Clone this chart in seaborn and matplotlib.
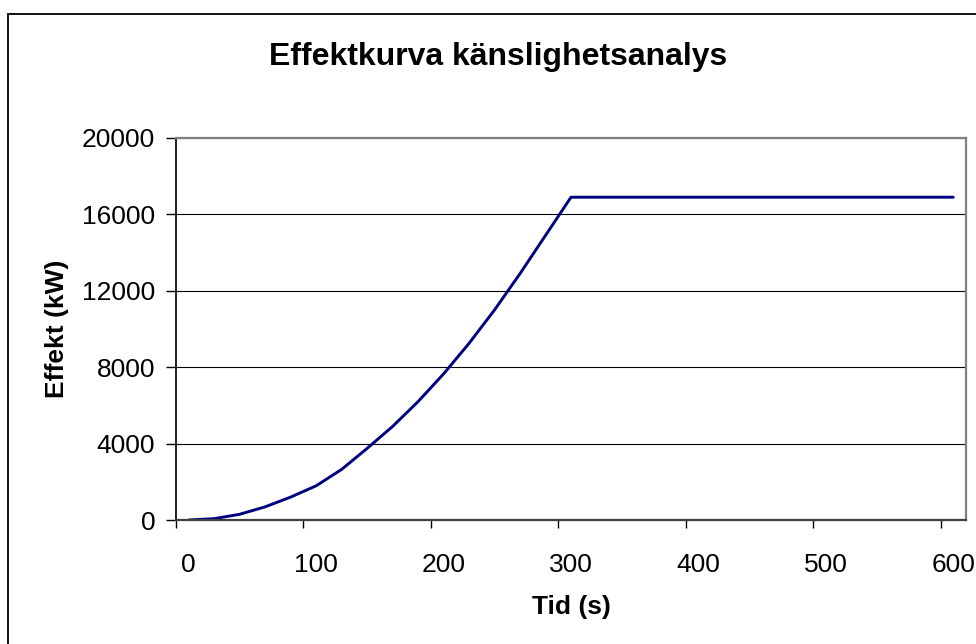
import matplotlib
matplotlib.use("Agg")
import matplotlib.pyplot as plt
from matplotlib.patches import Rectangle
from matplotlib.ticker import FixedLocator
import pandas as pd
import seaborn as sns

# Time steps (s) and delivered power (kW)
tid = [0, 20, 40, 60, 80, 100, 120, 140, 160, 180, 200, 220, 240, 260, 280, 300,
       320, 340, 360, 380, 400, 420, 440, 460, 480, 500, 520, 540, 560, 580, 600]
effekt = [0, 70, 300, 690, 1200, 1790, 2650, 3750, 4900, 6200, 7650, 9250, 11000,
          12900, 14900, 16900,
          16900, 16900, 16900, 16900, 16900, 16900, 16900, 16900, 16900, 16900,
          16900, 16900, 16900, 16900, 16900]

x_labels = [0, 100, 200, 300, 400, 500, 600]
y_ticks = [0, 4000, 8000, 12000, 16000, 20000]

title = "Effektkurva känslighetsanalys"
x_title = "Tid (s)"
y_title = "Effekt (kW)"

df = pd.DataFrame({"Tid": tid, "Effekt": effekt})

sns.set_style("white")
plt.rcParams["font.family"] = ["Liberation Sans", "DejaVu Sans"]
plt.rcParams["text.color"] = "black"
plt.rcParams["axes.labelcolor"] = "black"

W, H = 976, 644
fig = plt.figure(figsize=(W / 100, H / 100), dpi=100)
fig.patch.set_facecolor("white")

# plot area in pixel coordinates
left, right, top, bottom = 176, 966, 138, 520
ax = fig.add_axes([left / W, 1 - bottom / H, (right - left) / W, (bottom - top) / H])

sns.lineplot(data=df, x="Tid", y="Effekt", ax=ax, color="#000080",
             linewidth=2.1, estimator=None, sort=False)

ax.set_xlim(-10, 610)
ax.set_ylim(0, 20000)

# x: labels on categories, tick marks between categories
ax.xaxis.set_major_locator(FixedLocator(x_labels))
ax.set_xticklabels([str(v) for v in x_labels])
ax.xaxis.set_minor_locator(FixedLocator([v - 10 for v in x_labels[1:]] + [-10]))
ax.tick_params(axis="x", which="major", length=0, pad=24, labelsize=19,
               labelcolor="black")
ax.tick_params(axis="x", which="minor", length=5.5, width=1, direction="out",
               color="black", bottom=True)

ax.set_yticks(y_ticks)
ax.set_yticklabels([str(v) for v in y_ticks])
ax.tick_params(axis="y", which="major", length=7, width=1, direction="out",
               pad=8, labelsize=19, color="black", labelcolor="black", left=True)

ax.grid(axis="y", color="black", linewidth=0.8)
ax.grid(axis="x", visible=False)
ax.set_axisbelow(True)

for side in ("top", "right"):
    ax.spines[side].set_color("#808080")
    ax.spines[side].set_linewidth(1.6)
ax.spines["left"].set_color("#202020")
ax.spines["left"].set_linewidth(1.4)
ax.spines["bottom"].set_color("#404040")
ax.spines["bottom"].set_linewidth(1.6)

ax.set_xlabel("")
ax.set_ylabel("")

fig.text(498 / W, 1 - 57 / H, title, ha="center", va="center",
         fontsize=23, fontweight="bold", color="black")
fig.text(571 / W, 1 - 607 / H, x_title, ha="center", va="center",
         fontsize=19, fontweight="bold", color="black")
fig.text(57 / W, 1 - 329 / H, y_title, ha="center", va="center",
         fontsize=19, fontweight="bold", rotation=90, color="black")

# chart area border
fig.add_artist(Rectangle((8 / W, -0.05), 1.1, 1 - 14 / H + 0.05,
                         transform=fig.transFigure, fill=False,
                         edgecolor="black", linewidth=1.3))

fig.savefig("out.png", dpi=100)
